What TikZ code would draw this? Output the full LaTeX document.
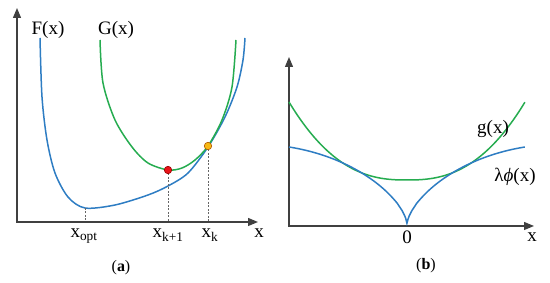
\documentclass[tikz,border=0pt]{standalone}
\usepackage{fontspec}
\setmainfont{Liberation Serif}
\usetikzlibrary{arrows.meta, positioning}
\definecolor{fblue}{RGB}{46,125,195}
\definecolor{ggreen}{RGB}{38,172,80}
\definecolor{dotred}{RGB}{232,20,25}
\definecolor{dotyellow}{RGB}{247,185,20}

\begin{document}
\begin{tikzpicture}[
        x=1pt, y=-1pt,
        axis/.style={draw=black!75, line width=1.2pt, {Triangle[length=10pt,width=8pt]}-{Triangle[length=10pt,width=8pt]}},
        bluecurve/.style={draw=fblue, line width=1.5pt},
        greencurve/.style={draw=ggreen, line width=1.5pt},
        guide/.style={draw=black!60, dash pattern=on 2pt off 1.5pt, line width=0.6pt},
        dot/.style={circle, draw, line width=0.6pt, inner sep=0pt, minimum size=7.5pt},
        lbl/.style={font=\fontsize{19}{22}\selectfont, inner sep=0pt, anchor=base},
        caption/.style={font=\fontsize{16}{18}\selectfont, inner sep=0pt}
    ]
        \useasboundingbox (0,0) rectangle (550,283);

        % (a)
        \coordinate (oa) at (17,222);
        \coordinate (ya) at (17,8);
        \coordinate (xa) at (258,222);
        \coordinate (fmin) at (85,208);
        \draw[axis] (ya) -- (oa) -- (xa);

        \draw[bluecurve] plot[smooth] coordinates {(40,38) (42,97) (47,140) (55,173) (68,197) (85,208)
            (115,205) (148,195) (168,186) (188,173) (208,147) (225,117) (237,87) (243,60) (245,38)};
        \draw[greencurve] plot[smooth] coordinates {(100,40) (103,83) (115,120) (132,147) (148,163)
            (168,170) (182,168) (195,160) (208,146) (222,120) (232,87) (236,40)};

        \draw[guide] (fmin) -- (fmin |- oa);
        \draw[guide] (168,170) -- (168,222);
        \draw[guide] (208,146) -- (208,222);
        \node[dot, fill=dotred, draw=red!60!black] (xnext) at (168,170) {};
        \node[dot, fill=dotyellow, draw=orange!70!black] (xcur) at (208,146) {};

        \node[lbl] (fx) at (48,35) {F(x)};
        \node[lbl] (gx) at (116,35) {G(x)};
        \node[lbl] (xopt) at (84,238) {x\textsubscript{opt}};
        \node[lbl] (xk1) at (168,238) {x\textsubscript{k+1}};
        \node[lbl] (xk) at (210,238) {x\textsubscript{k}};
        \node[lbl] (xlbla) at (259,238) {x};
        \node[caption] (capa) at (121,268) {(\textbf{a})};

        % (b)
        \coordinate (ob) at (289,226);
        \coordinate (yb) at (289,57);
        \coordinate (xb) at (534,226);
        \draw[axis] (yb) -- (ob) -- (xb);

        \draw[greencurve] plot[domain=-1:1, samples=101] ({407+118*\x}, {180-78*\x*\x*sqrt(abs(\x))});
        \draw[bluecurve] plot[domain=-1:1, samples=201]
            ({407+118*\x}, {224-77*(abs(\x)*(2.6-abs(\x))/1.6+0.00001)^0.65});

        \node[lbl] (gsmall) at (493,134) {g(x)};
        \node[lbl] (lphi) at (515,182) {λ{\itshape ϕ}(x)};
        \node[lbl] (zero) at (407,244) {0};
        \node[lbl] (xlblb) at (532,242) {x};
        \node[caption] (capb) at (426,266) {(\textbf{b})};
    \end{tikzpicture}
\end{document}
